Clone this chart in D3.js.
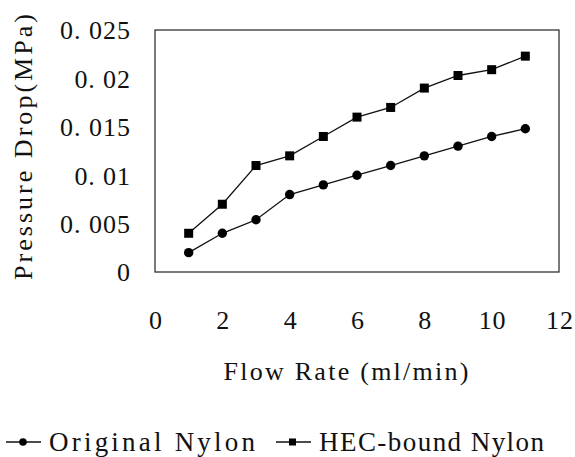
<!DOCTYPE html>
<html>
<head>
<meta charset="utf-8">
<script src="https://cdn.jsdelivr.net/npm/d3@7"></script>
<style>
  body { margin: 0; background: #fff; }
  text { font-family: "Liberation Serif", "DejaVu Serif", serif; fill: #111; }
</style>
</head>
<body>
<div id="chart-container"></div>
<script>
// data
const flowRate = [1, 2, 3, 4, 5, 6, 7, 8, 9, 10, 11];
const originalNylon = [0.002, 0.004, 0.0054, 0.008, 0.009, 0.01, 0.011, 0.012, 0.013, 0.014, 0.0148];
const hecNylon = [0.004, 0.007, 0.011, 0.012, 0.014, 0.016, 0.017, 0.019, 0.0203, 0.0209, 0.0223];
const xTicks = [0, 2, 4, 6, 8, 10, 12];
const yTicks = [0, 0.005, 0.01, 0.015, 0.02, 0.025];
const yTickLabels = ["0", "0.005", "0.01", "0.015", "0.02", "0.025"];

(function () {
    const W = 575, H = 457;
    const margin = { top: 30, right: 16, bottom: 185, left: 155 };
    const width = W - margin.left - margin.right;
    const height = H - margin.top - margin.bottom;
    const charW = 14.4; // the original uses a fixed-width face

    const x = d3.scaleLinear().domain([0, 12]).range([0, width]);
    const y = d3.scaleLinear().domain([0, 0.025]).range([height, 0]);

    const root = d3.select("#chart-container")
        .append("svg")
        .attr("width", W)
        .attr("height", H);

    const svg = root.append("g")
        .attr("transform", `translate(${margin.left},${margin.top})`);

    // plot frame
    svg.append("rect")
        .attr("width", width)
        .attr("height", height)
        .attr("fill", "none")
        .attr("stroke", "#333")
        .attr("stroke-width", 1.3);

    // axes (labels only, no tick marks)
    const yAxis = svg.append("g")
        .call(d3.axisLeft(y).tickValues(yTicks)
            .tickFormat((d, i) => yTickLabels[i].replace(".", ". "))
            .tickSize(0).tickPadding(25));
    yAxis.select(".domain").remove();
    yAxis.selectAll("text")
        .attr("font-size", 26)
        .attr("font-family", null)
        .attr("dy", "0.34em")
        .attr("textLength", (d, i) => yTickLabels[i].length * charW - 2)
        .attr("lengthAdjust", "spacing");

    const xAxis = svg.append("g")
        .attr("transform", `translate(0,${height})`)
        .call(d3.axisBottom(x).tickValues(xTicks).tickSize(0).tickPadding(48));
    xAxis.select(".domain").remove();
    xAxis.selectAll("text")
        .attr("font-size", 26)
        .attr("font-family", null)
        .attr("dy", "0.34em")
        .attr("textLength", d => String(d).length * charW - 2)
        .attr("lengthAdjust", "spacing");

    // axis titles
    svg.append("text")
        .attr("x", width / 2 - 11)
        .attr("y", height + 108)
        .attr("text-anchor", "middle")
        .attr("font-size", 26)
        .attr("textLength", 245)
        .attr("lengthAdjust", "spacing")
        .text("Flow Rate (ml/min)");

    svg.append("text")
        .attr("transform", `translate(${-123},${height / 2 - 4}) rotate(-90)`)
        .attr("text-anchor", "middle")
        .attr("font-size", 26)
        .attr("textLength", 266)
        .attr("lengthAdjust", "spacing")
        .text("Pressure Drop(MPa)");

    const line = d3.line()
        .x((d, i) => x(flowRate[i]))
        .y(d => y(d));

    svg.append("path")
        .datum(originalNylon)
        .attr("fill", "none")
        .attr("stroke", "#111")
        .attr("stroke-width", 1.3)
        .attr("d", line);

    svg.append("path")
        .datum(hecNylon)
        .attr("fill", "none")
        .attr("stroke", "#111")
        .attr("stroke-width", 1.3)
        .attr("d", line);

    svg.selectAll(".dot")
        .data(originalNylon)
        .join("circle")
        .attr("class", "dot")
        .attr("cx", (d, i) => x(flowRate[i]))
        .attr("cy", d => y(d))
        .attr("r", 4.7)
        .attr("fill", "#000");

    const sq = 9;
    svg.selectAll(".sq")
        .data(hecNylon)
        .join("rect")
        .attr("class", "sq")
        .attr("x", (d, i) => x(flowRate[i]) - sq / 2)
        .attr("y", d => y(d) - sq / 2)
        .attr("width", sq)
        .attr("height", sq)
        .attr("fill", "#000");

    // legend
    const legY = 442;
    const leg = root.append("g");
    const items = [
        { name: "Original Nylon", x0: 6, len: 206, shape: "circle" },
        { name: "HEC-bound Nylon", x0: 276, len: 225, shape: "square" }
    ];
    items.forEach(it => {
        leg.append("line")
            .attr("x1", it.x0).attr("x2", it.x0 + 35)
            .attr("y1", legY).attr("y2", legY)
            .attr("stroke", "#111").attr("stroke-width", 1.3);
        if (it.shape === "circle") {
            leg.append("circle")
                .attr("cx", it.x0 + 17).attr("cy", legY).attr("r", 3.8)
                .attr("fill", "#000");
        } else {
            leg.append("rect")
                .attr("x", it.x0 + 13).attr("y", legY - 3.5)
                .attr("width", 7).attr("height", 7)
                .attr("fill", "#000");
        }
        leg.append("text")
            .attr("x", it.x0 + 43)
            .attr("y", legY + 9)
            .attr("font-size", 27)
            .attr("textLength", it.len)
            .attr("lengthAdjust", "spacing")
            .text(it.name);
    });
})();
</script>
</body>
</html>
